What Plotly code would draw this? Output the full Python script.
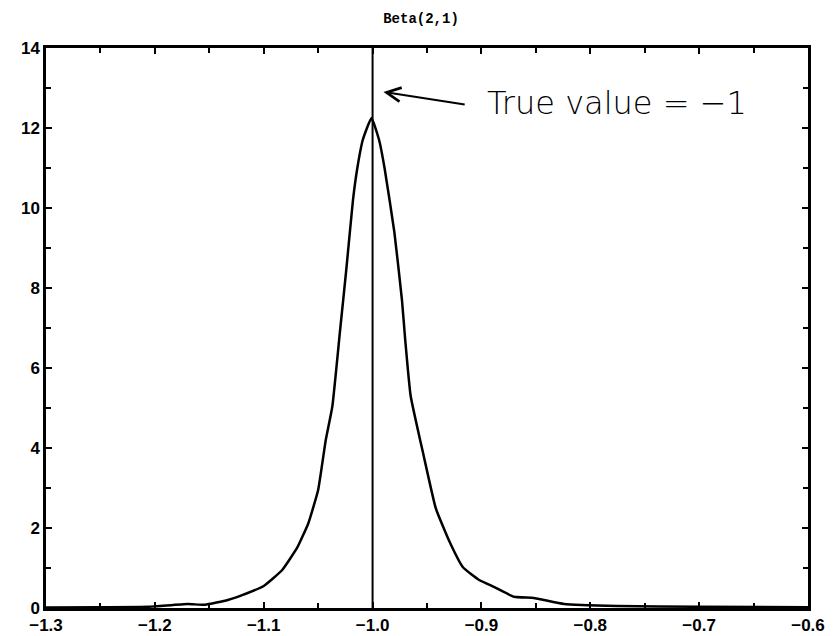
import plotly.graph_objects as go

# density estimate
x_vals = [-1.300, -1.250, -1.206, -1.170, -1.154, -1.133, -1.124, -1.100, -1.083,
          -1.069, -1.059, -1.050, -1.043, -1.037, -1.030, -1.024, -1.018, -1.014,
          -1.009, -1.001, -0.994, -0.989, -0.980, -0.973, -0.970, -0.965, -0.953,
          -0.942, -0.930, -0.917, -0.902, -0.888, -0.870, -0.852, -0.824, -0.775,
          -0.700, -0.600]
y_vals = [0.01, 0.02, 0.03, 0.10, 0.08, 0.20, 0.28, 0.55, 0.95,
          1.52, 2.12, 2.95, 4.20, 5.03, 6.90, 8.50, 10.20, 11.00,
          11.70, 12.25, 11.70, 11.00, 9.40, 7.70, 6.70, 5.30, 3.80,
          2.50, 1.70, 1.02, 0.70, 0.52, 0.28, 0.25, 0.10, 0.05,
          0.03, 0.02]

true_value = -1.0
title_text = "Beta(2,1)"
note_text = "True value = \u22121"

fig = go.Figure()

fig.add_trace(go.Scatter(
    x=x_vals, y=y_vals,
    mode="lines",
    line=dict(color="black", width=2.5, shape="spline", smoothing=0.4),
    showlegend=False,
))

# vertical marker at the true value
fig.add_vline(x=true_value, line=dict(color="black", width=2))

# arrow pointing to the line
fig.add_annotation(
    x=-0.990, y=12.9, ax=-0.914, ay=12.58,
    xref="x", yref="y", axref="x", ayref="y",
    text="", showarrow=True,
    arrowhead=5, arrowsize=1.4, arrowwidth=2, arrowcolor="black",
)
fig.add_annotation(
    x=-0.897, y=12.63, xref="x", yref="y",
    text=note_text, showarrow=False,
    xanchor="left", yanchor="middle",
    font=dict(family="DejaVu Sans", size=32, color="black", weight=300),
)

axis_style = dict(
    showline=True, linecolor="black", linewidth=2.5, mirror="ticks",
    ticks="inside", ticklen=6, tickwidth=2, tickcolor="black",
    showgrid=False, zeroline=False, automargin=False,
    tickfont=dict(family="Liberation Sans", size=17, color="black", weight="bold"),
)

fig.update_xaxes(range=[-1.3, -0.6], dtick=0.1, tick0=-1.3, tickformat=".1f",
                 minor=dict(dtick=0.05, ticks="inside", ticklen=5, tickwidth=1.5,
                            tickcolor="black", showgrid=False),
                 **axis_style)
fig.update_yaxes(range=[0, 14], dtick=2,
                 minor=dict(dtick=1, ticks="inside", ticklen=5, tickwidth=1.5,
                            tickcolor="black", showgrid=False),
                 **axis_style)

# page body adds an 8px offset, so the figure is sized a bit smaller
fig.update_layout(
    title=dict(text=title_text, x=0.5, xanchor="center", y=0.984, yanchor="middle",
               font=dict(family="Liberation Mono", size=14, color="black", weight="bold"),
               automargin=False),
    width=826, height=628,
    margin=dict(l=38, r=26, t=40, b=28),
    plot_bgcolor="white", paper_bgcolor="white",
)

fig.write_html("out.html")
